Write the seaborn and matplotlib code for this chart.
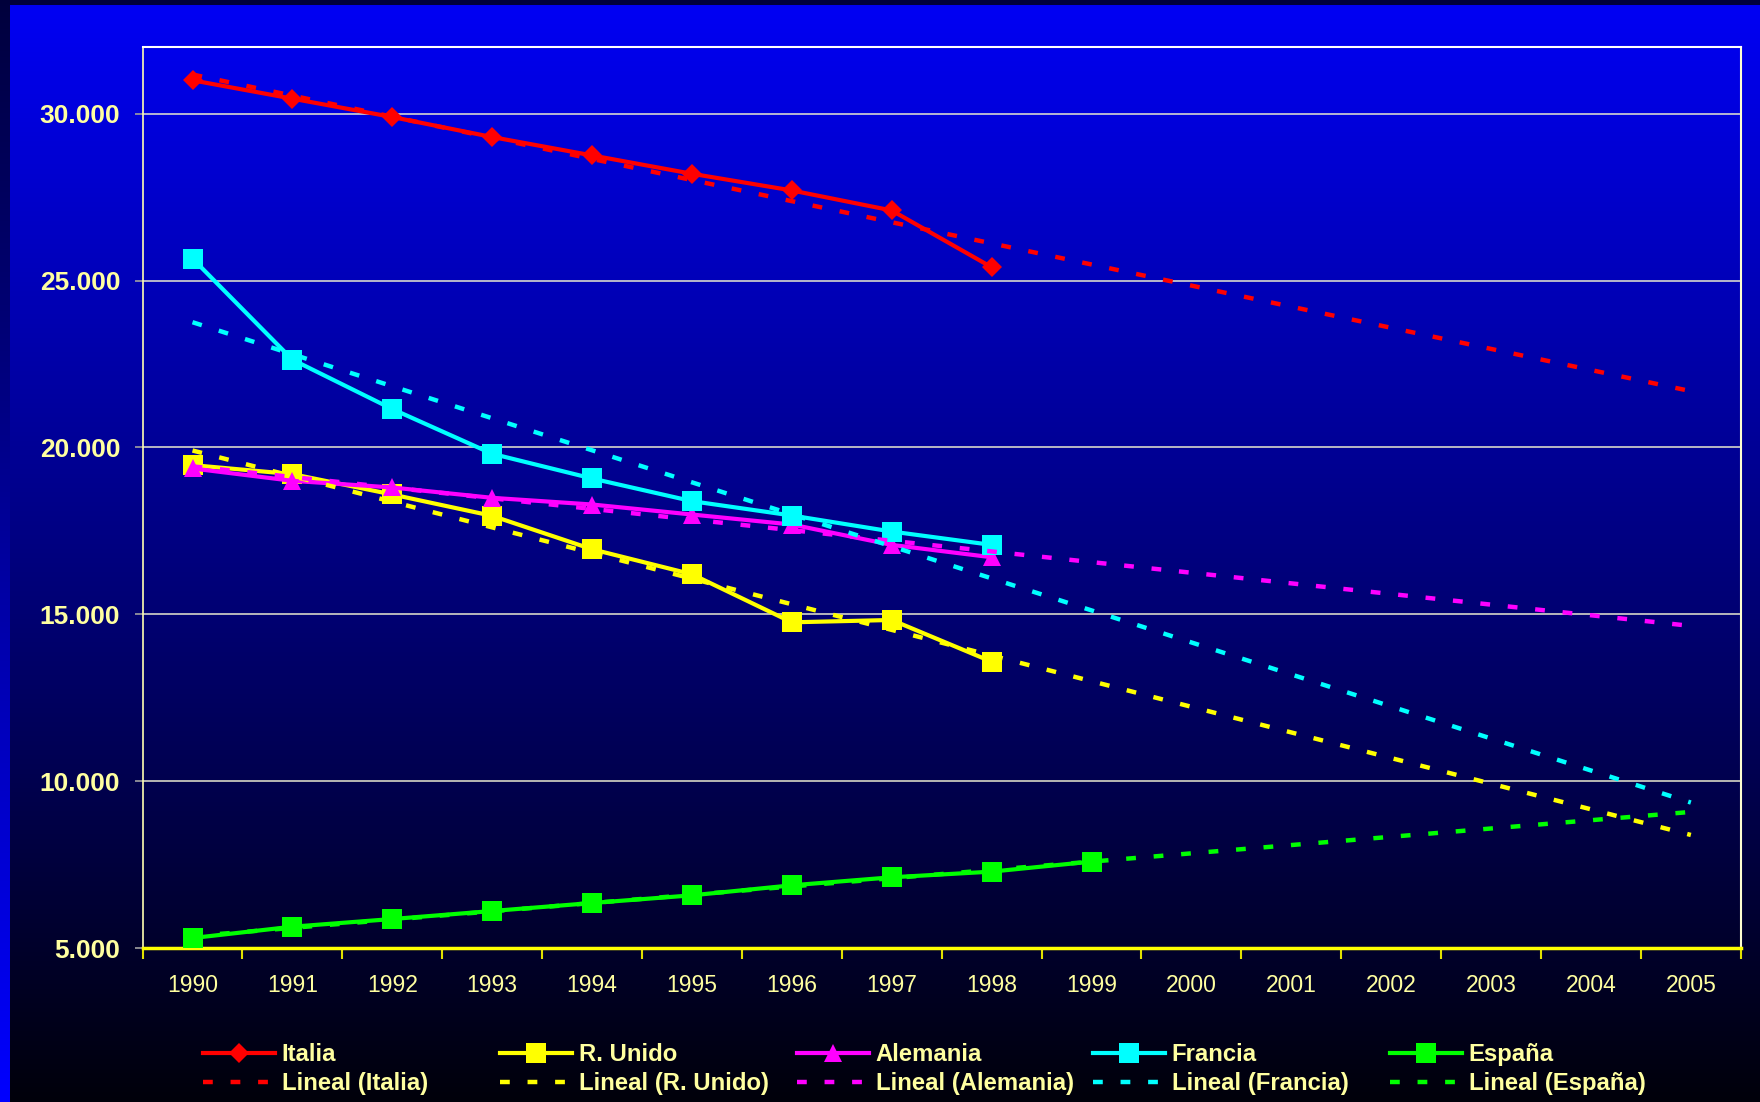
import numpy as np
import pandas as pd
import matplotlib.pyplot as plt
import seaborn as sns
from matplotlib.lines import Line2D

plt.rcParams['font.family'] = ['Liberation Sans', 'DejaVu Sans']

# Datos (1990-1998 / 1999)
years = list(range(1990, 2006))
italia = [31000, 30450, 29900, 29300, 28750, 28200, 27700, 27100, 25400]
r_unido = [19470, 19200, 18590, 17950, 16950, 16200, 14760, 14830, 13580]
alemania = [19370, 19000, 18800, 18490, 18290, 17990, 17690, 17080, 16710]
francia = [25660, 22630, 21150, 19810, 19070, 18390, 17960, 17480, 17080]
espana = [5300, 5640, 5870, 6110, 6350, 6580, 6880, 7120, 7290, 7590]

names = ['Italia', 'R. Unido', 'Alemania', 'Francia', 'España']
values = [italia, r_unido, alemania, francia, espana]

# estilo de cada serie
colors = {'Italia': '#FF0000', 'R. Unido': '#FFFF00', 'Alemania': '#FF00FF',
          'Francia': '#00FFFF', 'España': '#00FF00'}
markers = {'Italia': 'D', 'R. Unido': 's', 'Alemania': '^', 'Francia': 's', 'España': 's'}
msizes = {'Italia': 10, 'R. Unido': 14, 'Alemania': 13, 'Francia': 14, 'España': 14}

txt_color = '#FFFFA0'
trend_ls = (0, (2.2, 4))

W, H = 1760, 1102
fig = plt.figure(figsize=(W / 100, H / 100), dpi=100)

# fondo degradado azul -> negro
bg = fig.add_axes([0, 0, 1, 1], zorder=-10)
t = np.linspace(0, 1, H)[:, None]
img = np.zeros((H, W, 3))
img[..., 2] = np.repeat(245 - 235 * t, W, axis=1) / 255
img[:, :10, 2] = np.repeat(60 + 195 * t, 10, axis=1) / 255
img[:5, :, 2] = 60 / 255
bg.imshow(img, aspect='auto', extent=[0, 1, 0, 1])
bg.axis('off')

ax = fig.add_axes([0.081, 0.1397, 0.9081, 0.8177])
ax.patch.set_alpha(0)

# series
for name, vals in zip(names, values):
    df = pd.DataFrame({'year': years[:len(vals)], 'valor': vals})
    sns.lineplot(data=df, x='year', y='valor', ax=ax, color=colors[name], lw=3,
                 marker=markers[name], markersize=msizes[name], markeredgewidth=0,
                 errorbar=None, zorder=3)

# lineas de tendencia lineal (ajuste sobre los datos, extendido a 2005)
for name, vals in zip(names, values):
    coef = np.polyfit(years[:len(vals)], vals, 1)
    dft = pd.DataFrame({'year': years, 'valor': np.polyval(coef, years)})
    sns.lineplot(data=dft, x='year', y='valor', ax=ax, color=colors[name], lw=3.2,
                 linestyle=trend_ls, errorbar=None, zorder=4)

ax.set_xlabel('')
ax.set_ylabel('')
ax.set_xlim(1989.5, 2005.5)
ax.set_ylim(5000, 32000)

yt = list(range(5000, 30001, 5000))
ax.set_yticks(yt, labels=[f"{v:,}".replace(',', '.') for v in yt],
              fontweight='bold', fontsize=19, color=txt_color)
ax.tick_params(axis='y', length=6, width=1.2, color='#A0A0A0', pad=10)

ax.set_xticks(np.arange(1989.5, 2006, 1), labels=[])
ax.set_xticks(years, minor=True)
ax.set_xticklabels([str(y) for y in years], minor=True, fontsize=16.5, color=txt_color)
ax.tick_params(axis='x', which='major', length=8, width=1.5, color='#E0E000')
ax.tick_params(axis='x', which='minor', length=0, pad=18.5)

ax.yaxis.grid(True, color='#E8E8D0', lw=1.1)
ax.set_axisbelow(True)
ax.spines['left'].set_color('#FFFFB0')
ax.spines['left'].set_linewidth(1.2)
ax.spines['top'].set_color('#FFFFFF')
ax.spines['top'].set_linewidth(1.5)
ax.spines['right'].set_color('#FFFFD0')
ax.spines['right'].set_linewidth(1.5)
ax.spines['bottom'].set_color('#FFFF00')
ax.spines['bottom'].set_linewidth(2.5)

# leyenda: cinco columnas igualmente espaciadas
leg_x = [203, 500, 797, 1093, 1390]
for name, x in zip(names, leg_x):
    h = [Line2D([], [], color=colors[name], lw=3, marker=markers[name],
                markersize=msizes[name], markeredgewidth=0),
         Line2D([], [], color=colors[name], lw=3.2, linestyle=trend_ls)]
    fig.legend(h, [name, f'Lineal ({name})'], loc='center left',
               bbox_to_anchor=(x / W, 1 - 1069 / H), frameon=False, borderpad=0,
               borderaxespad=0, handlelength=3.0, handletextpad=0.3, labelspacing=0.25,
               prop=dict(family='Liberation Sans', weight='bold', size=17.2),
               labelcolor=txt_color)

fig.savefig('out.png', dpi=100)
